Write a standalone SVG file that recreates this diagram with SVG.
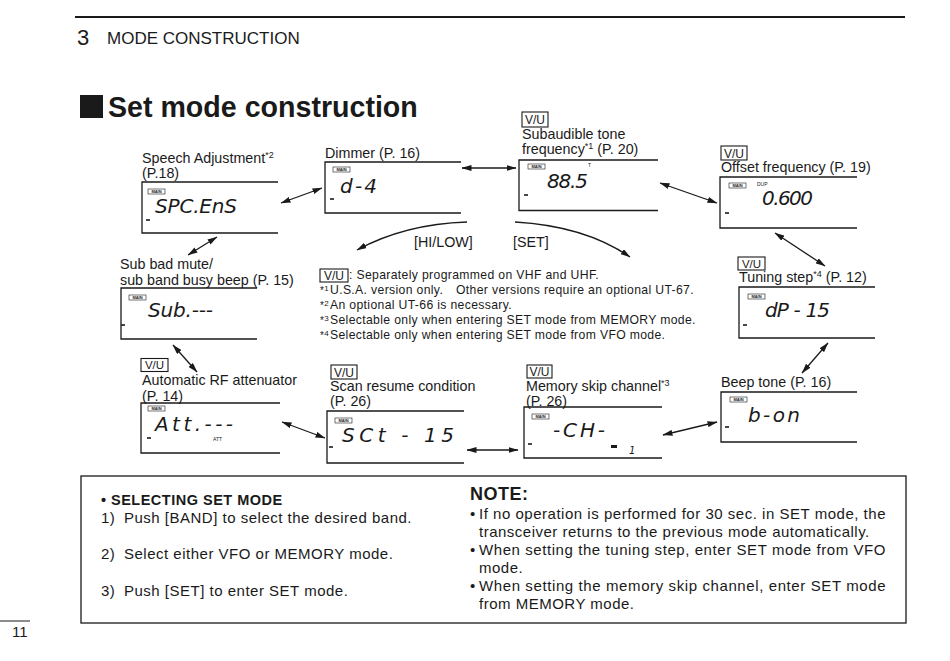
<svg xmlns="http://www.w3.org/2000/svg" width="950" height="661" viewBox="0 0 950 661">
<defs>
<marker id="ah" viewBox="0 0 10 6" refX="9.5" refY="3" markerWidth="10" markerHeight="6" markerUnits="userSpaceOnUse" orient="auto-start-reverse">
<path d="M0,0 L10,3 L0,6 z" fill="#1a1a1a"/>
</marker>
</defs>
<style>
text{font-family:"Liberation Sans",Arial,sans-serif;fill:#1a1a1a}
.lbl{font-size:14.3px}
.sup{font-size:9px}
.lcd{font-family:"DejaVu Sans",sans-serif;font-style:italic;font-weight:200;font-size:20px}
.box{fill:none;stroke:#1a1a1a;stroke-width:1.3}
.vu{fill:none;stroke:#1a1a1a;stroke-width:1.1}
.vut{font-size:12px;text-anchor:middle}
.main{fill:none;stroke:#1a1a1a;stroke-width:0.6}
.maint{font-size:4px;font-weight:bold;text-anchor:middle}
.tiny{font-size:5px}
.dash{stroke:#1a1a1a;stroke-width:1.6}
.con{fill:none;stroke:#1a1a1a;stroke-width:1.3}
.fn{font-size:12.2px;letter-spacing:0.35px}
.bt{font-size:15px;letter-spacing:0.5px}
</style>
<rect width="950" height="661" fill="#ffffff"/>

<g id="header">
<line x1="75" y1="17" x2="905" y2="17" stroke="#1a1a1a" stroke-width="2"/>
<text x="77" y="45" font-size="22">3</text>
<text x="107" y="44" font-size="17">MODE CONSTRUCTION</text>
<rect x="80" y="95" width="23" height="23" fill="#1a1a1a"/>
<text x="108" y="117" font-size="28.6" font-weight="bold">Set mode construction</text>
</g>

<g id="speech">
<text class="lbl" x="142" y="163">Speech Adjustment<tspan class="sup" dy="-5">*2</tspan></text>
<text class="lbl" x="142" y="178">(P.18)</text>
<path class="box" d="M278,182 H142 V233 H278"/>
<rect class="main" x="148" y="189" width="17" height="5"/><text class="maint" x="156.5" y="193">MAIN</text>
<text class="lcd" x="155" y="213" textLength="82" lengthAdjust="spacing">SPC.EnS</text>
<line class="dash" x1="146" y1="220" x2="150" y2="220"/>
</g>

<g id="dimmer">
<text class="lbl" x="325" y="158">Dimmer (P. 16)</text>
<path class="box" d="M461,162 H325 V213 H461"/>
<rect class="main" x="333" y="167" width="17" height="5"/><text class="maint" x="341.5" y="171">MAIN</text>
<text class="lcd" x="340" y="193" textLength="37" lengthAdjust="spacing">d-4</text>
<line class="dash" x1="330" y1="199" x2="334" y2="199"/>
</g>

<g id="subtone">
<rect class="vu" x="522" y="112" width="26" height="15"/><text class="vut" x="535" y="124">V/U</text>
<text class="lbl" x="522" y="139">Subaudible tone</text>
<text class="lbl" x="522" y="154">frequency<tspan class="sup" dy="-5">*1</tspan><tspan dy="5"> (P. 20)</tspan></text>
<path class="box" d="M658,160 H519 V210.5 H658"/>
<rect class="main" x="528" y="164" width="17" height="5"/><text class="maint" x="536.5" y="168">MAIN</text>
<text class="lcd" x="547" y="188" textLength="41" lengthAdjust="spacing">88.5</text>
<text class="tiny" x="588" y="167">T</text>
<line class="dash" x1="524" y1="195" x2="528" y2="195"/>
</g>

<g id="offset">
<rect class="vu" x="721" y="146" width="26" height="14"/><text class="vut" x="734" y="157.5">V/U</text>
<text class="lbl" x="721" y="172">Offset frequency (P. 19)</text>
<path class="box" d="M857,177 H720 V228 H857"/>
<rect class="main" x="729" y="183" width="17" height="5"/><text class="maint" x="737.5" y="187">MAIN</text>
<text class="tiny" x="757" y="186">DUP</text>
<text class="lcd" x="762" y="205" textLength="51" lengthAdjust="spacing">0.600</text>
<line class="dash" x1="725" y1="213" x2="729" y2="213"/>
</g>

<g id="tuning">
<rect class="vu" x="738" y="257" width="27" height="13"/><text class="vut" x="751.5" y="267.5" style="font-size:11.5px">V/U</text>
<text class="lbl" x="739" y="282">Tuning step<tspan class="sup" dy="-5">*4</tspan><tspan dy="5"> (P. 12)</tspan></text>
<path class="box" d="M875,287 H739 V338 H875"/>
<rect class="main" x="748" y="294" width="17" height="5"/><text class="maint" x="756.5" y="298">MAIN</text>
<text class="lcd" x="765" y="317" textLength="65" lengthAdjust="spacing">dP - 15</text>
<line class="dash" x1="743" y1="325" x2="747" y2="325"/>
</g>

<g id="beep">
<text class="lbl" x="721" y="386.5">Beep tone (P. 16)</text>
<path class="box" d="M857,392 H721 V442 H857"/>
<rect class="main" x="730" y="397" width="17" height="5"/><text class="maint" x="738.5" y="401">MAIN</text>
<text class="lcd" x="748" y="422" textLength="52" lengthAdjust="spacing">b-on</text>
<line class="dash" x1="725" y1="427" x2="729" y2="427"/>
</g>

<g id="memskip">
<rect class="vu" x="527" y="365" width="25" height="13"/><text class="vut" x="539.5" y="376">V/U</text>
<text class="lbl" x="526" y="391">Memory skip channel<tspan class="sup" dy="-5">*3</tspan></text>
<text class="lbl" x="526" y="405.5">(P. 26)</text>
<path class="box" d="M662,407 H524 V458 H662"/>
<rect class="main" x="532" y="414" width="17" height="5"/><text class="maint" x="540.5" y="418">MAIN</text>
<text class="lcd" x="553" y="437" textLength="52" lengthAdjust="spacing">-CH-</text>
<line class="dash" x1="528" y1="444" x2="532" y2="444"/>
<rect x="611" y="445" width="6" height="3" fill="#1a1a1a"/>
<text class="lcd" x="629" y="454" style="font-size:10px">1</text>
</g>

<g id="scan">
<rect class="vu" x="331" y="365" width="26" height="14"/><text class="vut" x="344" y="376.5">V/U</text>
<text class="lbl" x="330" y="391">Scan resume condition</text>
<text class="lbl" x="330" y="405.5">(P. 26)</text>
<path class="box" d="M464,411 H327 V463 H464"/>
<rect class="main" x="335" y="418" width="17" height="5"/><text class="maint" x="343.5" y="422">MAIN</text>
<text class="lcd" x="342" y="442" textLength="112" lengthAdjust="spacing">SCt - 15</text>
<line class="dash" x1="329" y1="447" x2="333" y2="447"/>
</g>

<g id="att">
<rect class="vu" x="141" y="358.5" width="27" height="13"/><text class="vut" x="154.5" y="369" style="font-size:11.5px">V/U</text>
<text class="lbl" x="142" y="385">Automatic RF attenuator</text>
<text class="lbl" x="142" y="401">(P. 14)</text>
<path class="box" d="M280,403 H141 V453 H280"/>
<rect class="main" x="148" y="406" width="17" height="5"/><text class="maint" x="156.5" y="410">MAIN</text>
<text class="lcd" x="155" y="430.5" textLength="78" lengthAdjust="spacing">Att.---</text>
<text class="tiny" x="213" y="440.5">ATT</text>
<line class="dash" x1="147" y1="438" x2="151" y2="438"/>
</g>

<g id="sub">
<text class="lbl" x="120" y="268.5">Sub bad mute/</text>
<text class="lbl" x="120" y="284.5">sub band busy beep (P. 15)</text>
<path class="box" d="M257,288 H121 V339 H257"/>
<rect class="main" x="129" y="295" width="17" height="5"/><text class="maint" x="137.5" y="299">MAIN</text>
<text class="lcd" x="148" y="317" textLength="65" lengthAdjust="spacing">Sub.---</text>
<line class="dash" x1="121" y1="325" x2="125" y2="325"/>
</g>

<g id="connectors">
<line class="con" x1="281" y1="203" x2="322" y2="188" marker-start="url(#ah)" marker-end="url(#ah)"/>
<line class="con" x1="217" y1="237" x2="188" y2="255" marker-start="url(#ah)" marker-end="url(#ah)"/>
<line class="con" x1="462" y1="168" x2="516" y2="168" marker-start="url(#ah)" marker-end="url(#ah)"/>
<line class="con" x1="660" y1="183" x2="717" y2="203" marker-start="url(#ah)" marker-end="url(#ah)"/>
<line class="con" x1="775" y1="233" x2="825" y2="266" marker-start="url(#ah)" marker-end="url(#ah)"/>
<line class="con" x1="828" y1="343" x2="802" y2="373" marker-start="url(#ah)" marker-end="url(#ah)"/>
<line class="con" x1="717" y1="422" x2="663" y2="435" marker-start="url(#ah)" marker-end="url(#ah)"/>
<line class="con" x1="518" y1="450" x2="467" y2="450" marker-start="url(#ah)" marker-end="url(#ah)"/>
<line class="con" x1="325" y1="438" x2="282" y2="422" marker-start="url(#ah)" marker-end="url(#ah)"/>
<line class="con" x1="173" y1="345" x2="197" y2="372" marker-start="url(#ah)" marker-end="url(#ah)"/>
<path class="con" d="M467,222 Q405,224 357,250" marker-end="url(#ah)"/>
<path class="con" d="M515,222 Q585,226 630,257" marker-end="url(#ah)"/>
<text class="lbl" x="414" y="246.5">[HI/LOW]</text>
<text class="lbl" x="513" y="246.5">[SET]</text>
</g>

<g id="footnotes">
<rect class="vu" x="320" y="269" width="28" height="13"/><text class="vut" x="334" y="280">V/U</text>
<text class="fn" x="349" y="279">: Separately programmed on VHF and UHF.</text>
<text class="fn" x="320" y="294"><tspan font-size="10">*</tspan><tspan font-size="8" dy="-3">1</tspan><tspan x="330" dy="3">U.S.A. version only.</tspan><tspan x="456">Other versions require an optional UT-67.</tspan></text>
<text class="fn" x="320" y="308.5"><tspan font-size="10">*</tspan><tspan font-size="8" dy="-3">2</tspan><tspan x="330" dy="3">An optional UT-66 is necessary.</tspan></text>
<text class="fn" x="320" y="323.5"><tspan font-size="10">*</tspan><tspan font-size="8" dy="-3">3</tspan><tspan x="330" dy="3">Selectable only when entering SET mode from MEMORY mode.</tspan></text>
<text class="fn" x="320" y="338.5"><tspan font-size="10">*</tspan><tspan font-size="8" dy="-3">4</tspan><tspan x="330" dy="3">Selectable only when entering SET mode from VFO mode.</tspan></text>
</g>

<g id="instructions">
<rect x="81" y="476" width="825" height="147" fill="none" stroke="#1a1a1a" stroke-width="1.3"/>
<text x="101" y="505" font-size="14.5" font-weight="bold">•</text>
<text x="111" y="505" font-size="14.5" font-weight="bold" letter-spacing="0.5">SELECTING SET MODE</text>
<text class="bt" x="101" y="523">1)</text><text class="bt" x="124" y="523">Push [BAND] to select the desired band.</text>
<text class="bt" x="101" y="558.5">2)</text><text class="bt" x="124" y="558.5">Select either VFO or MEMORY mode.</text>
<text class="bt" x="101" y="595.5">3)</text><text class="bt" x="124" y="595.5">Push [SET] to enter SET mode.</text>
</g>

<g id="note">
<text x="470" y="500" font-size="18" font-weight="bold" letter-spacing="0.5">NOTE:</text>
<text class="bt" x="470" y="518.5">•</text>
<text class="bt" x="479" y="518.5" textLength="407" lengthAdjust="spacing">If no operation is performed for 30 sec. in SET mode, the</text>
<text class="bt" x="479" y="536.5">transceiver returns to the previous mode automatically.</text>
<text class="bt" x="470" y="554.5">•</text>
<text class="bt" x="479" y="554.5" textLength="407" lengthAdjust="spacing">When setting the tuning step, enter SET mode from VFO</text>
<text class="bt" x="479" y="572.5">mode.</text>
<text class="bt" x="470" y="590.5">•</text>
<text class="bt" x="479" y="590.5" textLength="407" lengthAdjust="spacing">When setting the memory skip channel, enter SET mode</text>
<text class="bt" x="479" y="608.5">from MEMORY mode.</text>
</g>

<g id="page">
<line x1="0" y1="621" x2="30" y2="621" stroke="#1a1a1a" stroke-width="1"/>
<text x="12" y="637" font-size="15">11</text>
</g>
</svg>
